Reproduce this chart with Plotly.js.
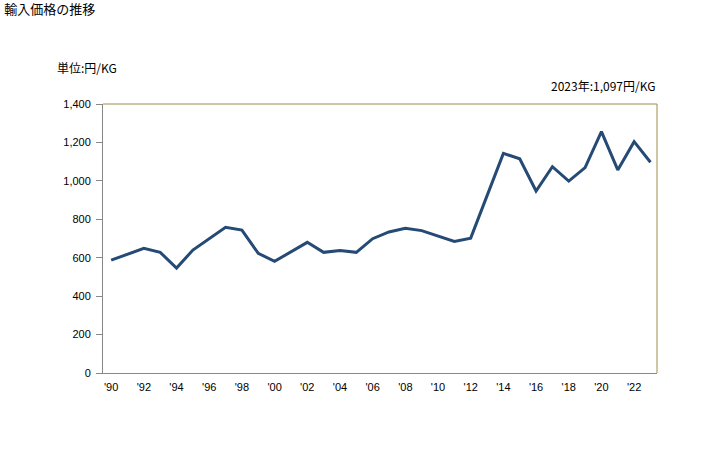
<!DOCTYPE html>
<html>
<head>
<meta charset="utf-8">
<script src="https://cdn.plot.ly/plotly-3.0.1.min.js"></script>
<style>
  body { margin: 0; background: #fff; }
  #chart { width: 728px; height: 450px; }
</style>
</head>
<body>
<div id="chart"></div>
<script>
var chartDiv = document.getElementById('chart');

// years and import price (yen/kg)
var years = [1990, 1991, 1992, 1993, 1994, 1995, 1996, 1997, 1998, 1999,
             2000, 2001, 2002, 2003, 2004, 2005, 2006, 2007, 2008, 2009,
             2010, 2011, 2012, 2013, 2014, 2015, 2016, 2017, 2018, 2019,
             2020, 2021, 2022, 2023];
var prices = [587, 618, 649, 628, 546, 640, 701, 758, 744, 623,
              581, 630, 680, 628, 638, 628, 699, 734, 753, 741,
              713, 685, 702, 922, 1143, 1115, 947, 1074, 999, 1069,
              1256, 1057, 1204, 1097];

var tickYears = [1990, 1992, 1994, 1996, 1998, 2000, 2002, 2004, 2006, 2008,
                 2010, 2012, 2014, 2016, 2018, 2020, 2022];
var tickText = tickYears.map(function (y) { return "'" + String(y).slice(2); });

var latin = 'Liberation Sans, Arial, sans-serif';
var jp = 'Noto Sans CJK JP, sans-serif';

var price = {
  type: 'scatter',
  mode: 'lines',
  x: years,
  y: prices,
  showlegend: false,
  hoverinfo: 'x+y',
  line: { color: '#254a75', width: 3 }
};

var layout = {
  width: 728,
  height: 450,
  margin: { l: 103, r: 71, t: 104, b: 77 },
  paper_bgcolor: '#fff',
  plot_bgcolor: '#fff',
  font: { family: latin, size: 11, color: '#000' },
  title: {
    text: '輸入価格の推移',
    x: 0.006, xanchor: 'left',
    y: 0.99, yanchor: 'top',
    font: { family: jp, size: 13, color: '#000' }
  },
  xaxis: {
    range: [1989.5, 2023.4],
    tickvals: tickYears,
    ticktext: tickText,
    showgrid: false,
    zeroline: false,
    showline: true,
    linecolor: '#888',
    linewidth: 1,
    ticks: '',
    ticklabelstandoff: 4,
    tickfont: { family: latin, size: 11 }
  },
  yaxis: {
    range: [0, 1400],
    dtick: 200,
    tickformat: ',d',
    showgrid: false,
    zeroline: false,
    showline: true,
    linecolor: '#888',
    linewidth: 1,
    ticks: 'outside',
    ticklen: 6,
    tickcolor: '#888',
    ticklabelstandoff: 3,
    tickfont: { family: latin, size: 11 }
  },
  shapes: [
    {
      type: 'path', xref: 'paper', yref: 'paper',
      path: 'M 0 1 L 1 1 L 1 0',
      line: { color: '#9b8e4a', width: 1 }
    }
  ],
  annotations: [
    {
      text: '単位:円/KG', xref: 'paper', yref: 'paper',
      x: -0.087, y: 1.095, xanchor: 'left', yanchor: 'bottom',
      showarrow: false,
      font: { family: jp, size: 12 }
    },
    {
      text: '2023年:1,097円/KG', xref: 'paper', yref: 'paper',
      x: 1, y: 1.03, xanchor: 'right', yanchor: 'bottom',
      showarrow: false,
      font: { family: jp, size: 12 }
    }
  ]
};

Plotly.newPlot(chartDiv, [price], layout, { staticPlot: true });
</script>
</body>
</html>
